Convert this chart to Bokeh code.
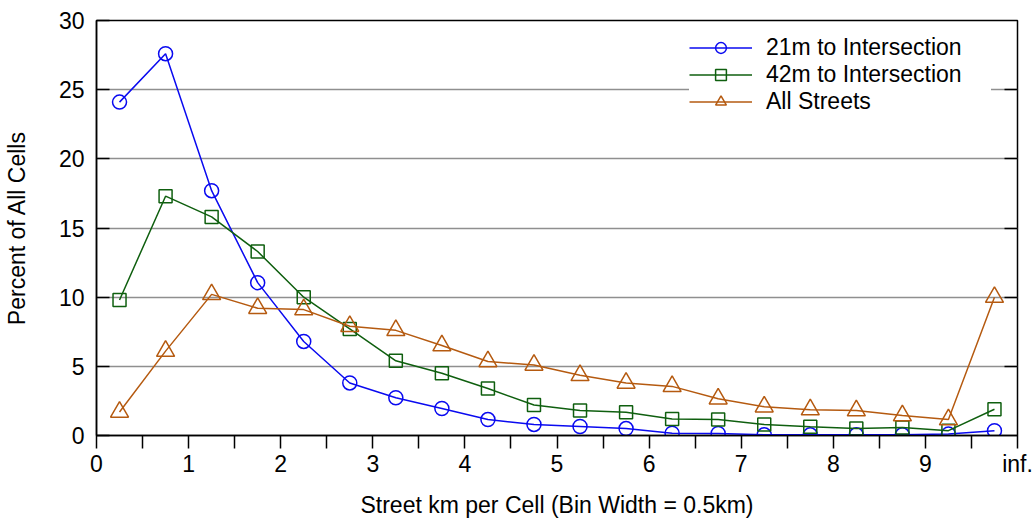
from bokeh.plotting import figure
from bokeh.models import (FixedTicker, LinearAxis, Range1d, Legend, LegendItem)
from bokeh.embed import file_html
from bokeh.resources import INLINE

bins = [0.25, 0.75, 1.25, 1.75, 2.25, 2.75, 3.25, 3.75, 4.25, 4.75,
        5.25, 5.75, 6.25, 6.75, 7.25, 7.75, 8.25, 8.75, 9.25, 9.75]
int21 = [24.1, 27.6, 17.7, 11.05, 6.8, 3.8, 2.73, 1.95, 1.15, 0.8,
         0.65, 0.5, 0.17, 0.15, 0.05, 0.05, 0.05, 0.05, 0.1, 0.35]
int42 = [9.8, 17.3, 15.8, 13.3, 10.0, 7.7, 5.4, 4.5, 3.4, 2.2,
         1.8, 1.68, 1.2, 1.15, 0.8, 0.63, 0.5, 0.57, 0.35, 1.9]
all_streets = [1.7, 6.1, 10.2, 9.2, 9.1, 7.9, 7.6, 6.5, 5.35, 5.1,
               4.35, 3.8, 3.55, 2.66, 2.08, 1.87, 1.8, 1.44, 1.15, 10.0]
labels = ["21m to Intersection", "42m to Intersection", "All Streets"]
x_ticks = [0, 1, 2, 3, 4, 5, 6, 7, 8, 9, 10]
x_tick_labels = ["0", "1", "2", "3", "4", "5", "6", "7", "8", "9", "inf."]
y_ticks = [0, 5, 10, 15, 20, 25, 30]
grid_ticks = [5, 10, 15, 20, 25]

FONT = "Liberation Sans"
FS = "23px"

p = figure(width=1033, height=520, output_backend="svg", toolbar_location=None,
           x_range=Range1d(0, 10), y_range=Range1d(0, 30),
           min_border_left=95, min_border_right=16, min_border_top=20,
           min_border_bottom=82)
p.outline_line_color = "black"
p.outline_line_width = 1.5
p.xgrid.visible = False
p.ygrid.ticker = FixedTicker(ticks=grid_ticks)
p.ygrid.grid_line_color = "#8f8f8f"
p.ygrid.grid_line_width = 1.5

xa = p.xaxis[0]
xa.ticker = FixedTicker(ticks=x_ticks, minor_ticks=[t + 0.5 for t in x_ticks[:-1]])
xa.major_label_overrides = {t: l for t, l in zip(x_ticks, x_tick_labels)}
xa.major_tick_in = 0
xa.major_tick_out = 13
xa.minor_tick_in = 0
xa.minor_tick_out = 13
xa.major_tick_line_width = 1.5
xa.minor_tick_line_width = 1.5
xa.axis_line_width = 1.5
xa.axis_label = "Street km per Cell (Bin Width = 0.5km)"
xa.axis_label_text_font = FONT
xa.axis_label_text_font_size = FS
xa.axis_label_text_font_style = "normal"
xa.axis_label_text_color = "black"
xa.major_label_text_font = FONT
xa.major_label_text_font_size = FS
xa.major_label_text_color = "black"
xa.major_label_standoff = 2
xa.axis_label_standoff = 12

ya = p.yaxis[0]
ya.ticker = FixedTicker(ticks=y_ticks)
ya.major_tick_in = 13
ya.major_tick_out = 0
ya.minor_tick_line_color = None
ya.major_tick_line_width = 1.5
ya.axis_line_width = 1.5
ya.axis_label = "Percent of All Cells"
ya.axis_label_text_font = FONT
ya.axis_label_text_font_size = FS
ya.axis_label_text_font_style = "normal"
ya.axis_label_text_color = "black"
ya.major_label_text_font = FONT
ya.major_label_text_font_size = FS
ya.major_label_text_color = "black"
ya.major_label_standoff = 12
ya.axis_label_standoff = 26

ra = LinearAxis(ticker=FixedTicker(ticks=grid_ticks),
                major_tick_in=13, major_tick_out=0, major_tick_line_width=1.5,
                minor_tick_line_color=None, axis_line_color=None,
                major_label_overrides={t: "" for t in grid_ticks},
                major_label_standoff=0)
p.add_layout(ra, "right")

colors = ["#0a0af0", "#0f5f0f", "#b55a10"]
series = [int21, int42, all_streets]
markers = ["circle", "square", "triangle"]
sizes = [14, 13, 18]
items = []
for vals, c, m, s, lab in zip(series, colors, markers, sizes, labels):
    ln = p.line(bins, vals, line_color=c, line_width=1.5)
    sc = p.scatter(bins, vals, marker=m, size=s, line_color=c, line_width=1.5,
                   fill_color=None)
    items.append(LegendItem(label=lab, renderers=[ln, sc]))

leg = Legend(items=items, location=(593, 320), margin=0, padding=10,
             glyph_width=63, glyph_height=27, label_height=27,
             label_width=225, label_standoff=14, spacing=0,
             label_text_font=FONT, label_text_font_size=FS,
             label_text_color="black",
             border_line_color=None, background_fill_color="white",
             background_fill_alpha=1.0)
p.add_layout(leg, "center")

open("out.html", "w").write(file_html(p, INLINE))
